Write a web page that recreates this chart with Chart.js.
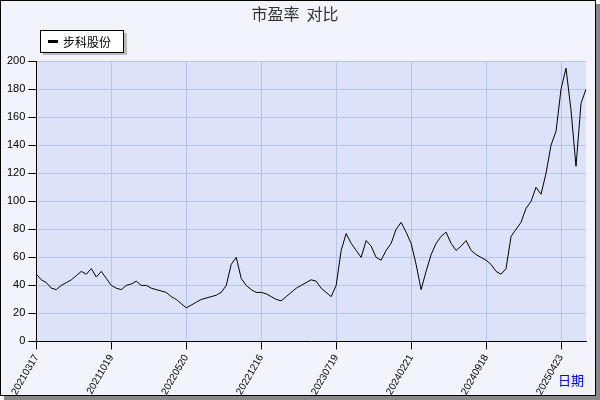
<!DOCTYPE html>
<html>
<head>
<meta charset="utf-8">
<script src="https://cdn.jsdelivr.net/npm/chart.js@4"></script>
<style>
body { margin: 0; background: #fff; }
#wrap { width: 600px; height: 400px; }
</style>
</head>
<body>
<div id="wrap"><canvas id="myChart" width="600" height="400"></canvas></div>
<script>
// ====== data ======
const tickLabels = ['20210317', '20211019', '20220520', '20221216', '20230719', '20240221', '20240918', '20250423'];
const tickEvery = 15;
const peValues = [
  48, 44, 42, 38, 37, 40, 42, 44, 47, 50, 48, 52, 46, 50, 45, 40,
  38, 37, 40, 41, 43, 40, 40, 38, 37, 36, 35, 32, 30, 27, 24,
  26, 28, 30, 31, 32, 33, 35, 40, 55, 60, 45, 40, 37, 35, 35,
  34, 32, 30, 29, 32, 35, 38, 40, 42, 44, 43, 38, 35, 32, 40, 65,
  77, 70, 65, 60, 72, 68, 60, 58, 65, 70, 80, 85, 78, 70, 55, 37,
  50, 62, 70, 75, 78, 70, 65, 68, 72, 65, 62, 60, 58, 55, 50, 48,
  52, 75, 80, 85, 95, 100, 110, 105, 120, 140, 150, 180, 195, 165, 125, 170, 180
];
const categories = peValues.map((v, i) => (i % tickEvery === 0 ? tickLabels[i / tickEvery] || '' : ''));

const bgPlugin = {
  id: 'bg',
  beforeDraw(chart) {
    const c = chart.ctx, a = chart.chartArea;
    c.save();
    c.fillStyle = '#888';
    c.fillRect(4, 4, 596, 396);
    c.fillStyle = '#f2f3fb';
    c.fillRect(0, 0, 596, 396);
    c.strokeStyle = '#000';
    c.strokeRect(0.5, 0.5, 595, 395);
    c.fillStyle = '#dce2f7';
    c.fillRect(a.left, a.top, a.right - a.left, a.bottom - a.top);
    c.restore();
  },
  afterDraw(chart) {
    const c = chart.ctx;
    c.save();
    // legend box
    c.fillStyle = '#bbb';
    c.fillRect(43, 33, 84, 22);
    c.fillStyle = '#fff';
    c.fillRect(40, 30, 83, 22);
    c.strokeStyle = '#000';
    c.strokeRect(40.5, 30.5, 83, 22);
    c.fillStyle = '#000';
    c.fillRect(48, 40, 10, 3);
    c.font = '12px "Noto Sans CJK SC"';
    c.textBaseline = 'middle';
    c.fillText('步科股份', 63, 42);
    c.fillStyle = '#0000ee';
    c.font = '13px "Noto Sans CJK SC"';
    c.fillText('日期', 558, 380);
    c.restore();
  }
};

const ctx = document.getElementById('myChart');
new Chart(ctx, {
  type: 'line',
  data: {
    labels: categories,
    datasets: [{
      label: '步科股份',
      data: peValues,
      borderColor: '#000',
      borderWidth: 1,
      pointRadius: 0,
      tension: 0
    }]
  },
  options: {
    animation: false,
    responsive: false,
    layout: { padding: { left: 4, right: 14, top: 0, bottom: 0 } },
    plugins: {
      legend: { display: false },
      title: {
        display: true,
        text: '市盈率  对比',
        color: '#333',
        font: { family: '"Noto Sans CJK SC"', size: 16, weight: 'normal' },
        padding: { top: 4, bottom: 38 }
      }
    },
    scales: {
      x: {
        grid: { color: '#b8c4ea', drawTicks: true, tickColor: '#000' },
        border: { color: '#000' },
        ticks: {
          autoSkip: false, maxRotation: 60, minRotation: 60, color: '#000',
          font: { size: 10 },
          callback: (v) => categories[v]
        },
        afterBuildTicks(axis) {
          axis.ticks = axis.ticks.filter(t => categories[t.value] !== '');
        }
      },
      y: {
        min: 0, max: 200,
        grid: { color: '#b8c4ea', tickColor: '#000' },
        border: { color: '#000' },
        ticks: { stepSize: 20, color: '#000', font: { size: 11 } }
      }
    }
  },
  plugins: [bgPlugin]
});
</script>
</body>
</html>
